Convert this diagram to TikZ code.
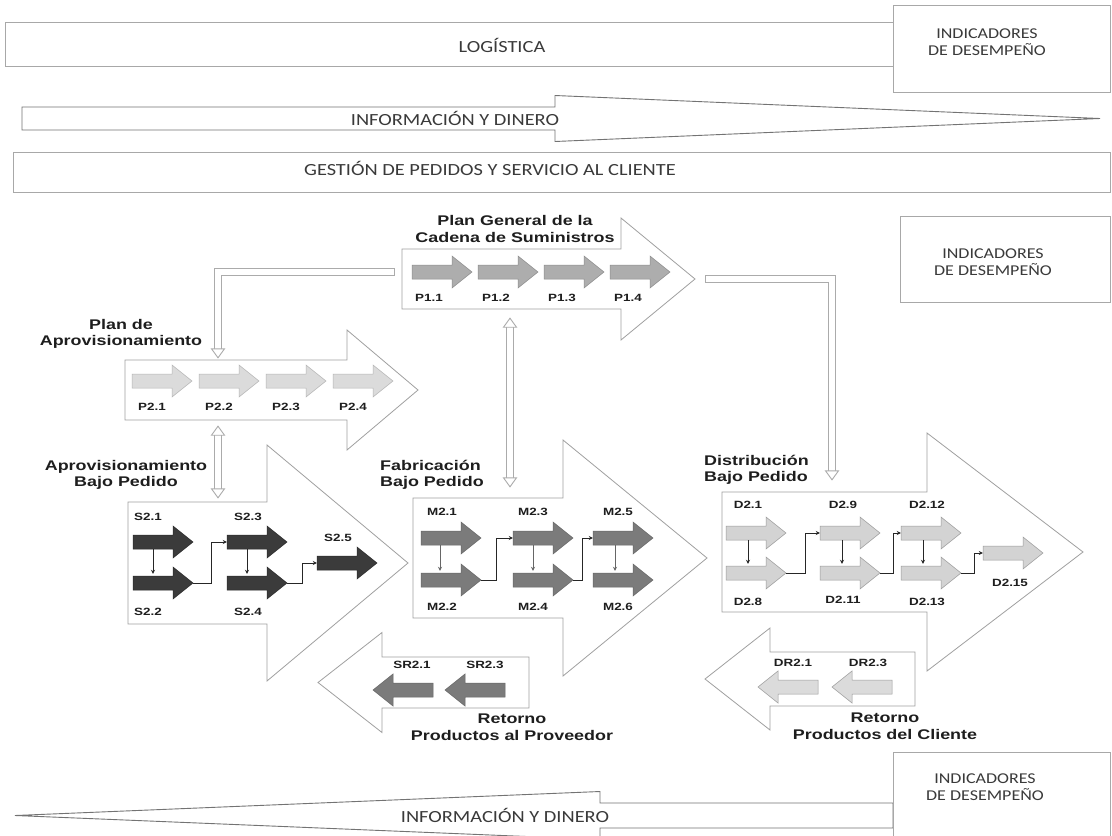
\documentclass[tikz,border=0pt]{standalone}
\usepackage{fontspec}
\usetikzlibrary{arrows.meta,calc}
\newfontfamily\barfont[FakeStretch=1.2]{Carlito}
\newfontfamily\blkfont[FakeStretch=1.28]{Liberation Sans}

\definecolor{boxgray}{HTML}{A8A8A8}
\definecolor{blkgray}{HTML}{A0A0A0}
\definecolor{conngray}{HTML}{ABABAB}
\definecolor{bartxt}{HTML}{3A3A3A}
\definecolor{labeltext}{HTML}{1E1E1E}
\definecolor{pfill}{HTML}{ADADAD}
\definecolor{pdraw}{HTML}{8C8C8C}
\definecolor{qfill}{HTML}{DBDBDB}
\definecolor{qdraw}{HTML}{B4B4B4}
\definecolor{sfill}{HTML}{3B3B3B}
\definecolor{sdraw}{HTML}{2A2A2A}
\definecolor{mfill}{HTML}{7B7B7B}
\definecolor{mdraw}{HTML}{676767}
\definecolor{dfill}{HTML}{D3D3D3}
\definecolor{ddraw}{HTML}{9A9A9A}

% block arrow: style, name, tail x, head base x, tip x, centre y, shaft half, head half
\newcommand\arrowshape[8]{%
  \draw[#1] ({#3},{#6-#7}) -- ({#4},{#6-#7}) -- ({#4},{#6-#8}) -- ({#5},{#6})
    -- ({#4},{#6+#8}) -- ({#4},{#6+#7}) -- ({#3},{#6+#7}) -- cycle;
  \node[inner sep=0, minimum height={2*#7}, minimum width={abs(#5-#3)}]
    (#2) at ({(#3+#5)/2},{#6}) {};%
}
% small process arrow: style, name, tail x, centre y, direction (1 or -1)
\newcommand\smallarrow[5]{\arrowshape{#1}{#2}{#3}{#3+40*(#5)}{#3+60*(#5)}{#4}{7}{16}}
% open head of a tube connector: tip point, direction angle
\newcommand\tubehead[2]{%
  \draw[tubeline, fill=white, line join=miter, shift={(#1)}, rotate=#2]
    (0,0) -- (-9,-6.5) -- (-9,6.5) -- cycle;}

\tikzset{
  boxline/.style={draw=boxgray, line width=0.9pt, fill=white},
  blockout/.style={draw=blkgray, fill=white, line width=0.8pt},
  pstyle/.style={fill=pfill, draw=pdraw, line width=0.5pt},
  qstyle/.style={fill=qfill, draw=qdraw, line width=0.5pt},
  sstyle/.style={fill=sfill, draw=sdraw, line width=0.5pt},
  mstyle/.style={fill=mfill, draw=mdraw, line width=0.5pt},
  dstyle/.style={fill=dfill, draw=ddraw, line width=0.5pt},
  lbl/.style={font=\blkfont\bfseries\fontsize{10.5}{12}\selectfont, text=labeltext, inner sep=0},
  ttl/.style={font=\blkfont\bfseries\fontsize{14}{16.5}\selectfont, text=labeltext, inner sep=0},
  bartext/.style={font=\barfont\fontsize{17}{19}\selectfont, text=bartxt, inner sep=0},
  indtext/.style={font=\barfont\fontsize{15}{17}\selectfont, text=bartxt, align=center, inner sep=0},
  link/.style={draw=black!85, line width=0.7pt, -{Stealth[length=4pt,width=4pt]}},
  tubeline/.style={draw=conngray, line width=0.9pt},
}

\begin{document}
\begin{tikzpicture}[x=1pt, y=-1pt]
\useasboundingbox (0,0) rectangle (1112,836);
\fill[white] (0,0) rectangle (1112,836);

% ---------- upper bands ----------
\node[boxline, minimum width=890, minimum height=44] (logbox) at (450,44) {};
\node[bartext] (logtxt) at (502,45) {LOGÍSTICA};
\node[boxline, minimum width=217, minimum height=87] (ind1) at (1001.5,48.5) {};
\node[indtext] (ind1txt) at (987,42) {INDICADORES\\DE DESEMPEÑO};

\arrowshape{boxline, draw=black!55}{infotop}{22}{555}{1100}{118.5}{11.5}{23}
\node[bartext] (infotoptxt) at (455,118) {INFORMACIÓN Y DINERO};

\node[boxline, minimum width=1097, minimum height=40] (gestion) at (561.5,172) {};
\node[bartext] (gestiontxt) at (490,168) {GESTIÓN DE PEDIDOS Y SERVICIO AL CLIENTE};

\node[boxline, minimum width=210, minimum height=86] (ind2) at (1005,259) {};
\node[indtext] (ind2txt) at (993,262) {INDICADORES\\DE DESEMPEÑO};

% ---------- planning blocks ----------
\arrowshape{blockout}{pgen}{402}{621}{695}{279}{30}{61}
\node[ttl, align=center] (pgenttl) at (515,229) {Plan General de la\\Cadena de Suministros};
\smallarrow{pstyle}{p11}{412}{272}{1}
\smallarrow{pstyle}{p12}{478}{272}{1}
\smallarrow{pstyle}{p13}{544}{272}{1}
\smallarrow{pstyle}{p14}{610}{272}{1}
\node[lbl] at (429,298) {P1.1};
\node[lbl] at (496,298) {P1.2};
\node[lbl] at (562,298) {P1.3};
\node[lbl] at (628,298) {P1.4};

\arrowshape{blockout}{papr}{125}{347}{418}{390}{30}{60}
\node[ttl, align=center] (paprttl) at (121,334) {Plan de\\Aprovisionamiento};
\smallarrow{qstyle}{p21}{132}{381}{1}
\smallarrow{qstyle}{p22}{199}{381}{1}
\smallarrow{qstyle}{p23}{266}{381}{1}
\smallarrow{qstyle}{p24}{333}{381}{1}
\node[lbl] at (152,407) {P2.1};
\node[lbl] at (219,407) {P2.2};
\node[lbl] at (286,407) {P2.3};
\node[lbl] at (353,407) {P2.4};

% ---------- execution blocks ----------
\arrowshape{blockout}{abp}{128}{267}{408}{563}{61}{118}
\node[ttl, align=center] (abpttl) at (126,475) {Aprovisionamiento\\Bajo Pedido};
\smallarrow{sstyle}{s21}{133}{542}{1}
\smallarrow{sstyle}{s22}{133}{583}{1}
\smallarrow{sstyle}{s23}{227}{542}{1}
\smallarrow{sstyle}{s24}{227}{583}{1}
\smallarrow{sstyle}{s25}{317}{563}{1}
\node[lbl] at (148,517) {S2.1};
\node[lbl] at (148,612) {S2.2};
\node[lbl] at (248,517) {S2.3};
\node[lbl] at (248,612) {S2.4};
\node[lbl] at (338,538) {S2.5};
\draw[link] ([xshift=-10pt]s21.south) -- ([xshift=-10pt,yshift=2pt]s22.north);
\draw[link] (s22.east) -- ++(18,0) |- (s23.west);
\draw[link] ([xshift=-10pt]s23.south) -- ([xshift=-10pt,yshift=2pt]s24.north);
\draw[link] (s24.east) -- ++(15,0) |- (s25.west);

\arrowshape{blockout}{fab}{413}{563}{707}{558}{60}{118}
\node[ttl, align=left, anchor=west] (fabttl) at (380,475) {Fabricación\\Bajo Pedido};
\smallarrow{mstyle}{m21}{421}{538}{1}
\smallarrow{mstyle}{m22}{421}{580}{1}
\smallarrow{mstyle}{m23}{513}{538}{1}
\smallarrow{mstyle}{m24}{513}{580}{1}
\smallarrow{mstyle}{m25}{593}{538}{1}
\smallarrow{mstyle}{m26}{593}{580}{1}
\node[lbl] at (442,512) {M2.1};
\node[lbl] at (442,607) {M2.2};
\node[lbl] at (533,512) {M2.3};
\node[lbl] at (533,607) {M2.4};
\node[lbl] at (618,512) {M2.5};
\node[lbl] at (618,607) {M2.6};
\draw[link, draw=black!60] ([xshift=-11pt]m21.south) -- ([xshift=-11pt,yshift=2pt]m22.north);
\draw[link] (m22.east) -- ++(15,0) |- (m23.west);
\draw[link, draw=black!60] ([xshift=-10pt]m23.south) -- ([xshift=-10pt,yshift=2pt]m24.north);
\draw[link] (m24.east) -- ++(9,0) |- (m25.west);
\draw[link, draw=black!60] ([xshift=-8pt]m25.south) -- ([xshift=-8pt,yshift=2pt]m26.north);

\arrowshape{blockout}{dist}{722}{927}{1083}{552}{60}{119}
\node[ttl, align=left, anchor=west] (distttl) at (704,470) {Distribución\\Bajo Pedido};
\smallarrow{dstyle}{d21}{726}{533}{1}
\smallarrow{dstyle}{d28}{726}{573}{1}
\smallarrow{dstyle}{d29}{820}{533}{1}
\smallarrow{dstyle}{d211}{820}{573}{1}
\smallarrow{dstyle}{d212}{901}{533}{1}
\smallarrow{dstyle}{d213}{901}{573}{1}
\smallarrow{dstyle}{d215}{983}{553}{1}
\node[lbl] at (748,505) {D2.1};
\node[lbl] at (748,602) {D2.8};
\node[lbl] at (843,505) {D2.9};
\node[lbl] at (843,600) {D2.11};
\node[lbl] at (927,505) {D2.12};
\node[lbl] at (927,602) {D2.13};
\node[lbl] at (1010,583) {D2.15};
\draw[link] ([xshift=-8pt]d21.south) -- ([xshift=-8pt,yshift=2pt]d28.north);
\draw[link] (d28.east) -- ++(19,0) |- (d29.west);
\draw[link] ([xshift=-8pt]d29.south) -- ([xshift=-8pt,yshift=2pt]d211.north);
\draw[link] (d211.east) -- ++(13,0) |- (d212.west);
\draw[link] ([xshift=-8pt]d212.south) -- ([xshift=-8pt,yshift=2pt]d213.north);
\draw[link] (d213.east) -- ++(13,0) |- (d215.west);

% ---------- return blocks ----------
\arrowshape{blockout}{rprov}{529}{382}{318}{682.5}{25.5}{50}
\smallarrow{mstyle}{sr21}{433}{690}{-1}
\smallarrow{mstyle}{sr23}{505}{690}{-1}
\node[lbl] at (412,665) {SR2.1};
\node[lbl] at (485,665) {SR2.3};
\node[ttl, align=center] (rprovttl) at (512,727) {Retorno\\Productos al Proveedor};

\arrowshape{blockout}{rcli}{915}{770}{705}{679}{27}{51}
\smallarrow{qstyle, draw=ddraw}{dr21}{818}{687}{-1}
\smallarrow{qstyle, draw=ddraw}{dr23}{892}{687}{-1}
\node[lbl] at (793,663) {DR2.1};
\node[lbl] at (868,663) {DR2.3};
\node[ttl, align=center] (rclittl) at (885,726) {Retorno\\Productos del Cliente};

% ---------- tube links between blocks (hollow, two parallel rails) ----------
% general plan -> supply plan
\coordinate (s1) at ([xshift=-7pt,yshift=7pt]pgen.west);
\coordinate (t1) at ([xshift=-53.5pt,yshift=2pt]papr.north);
\draw[tubeline] ([yshift=3.5pt]s1) -| ([xshift=-3.5pt,yshift=8pt]t1);
\draw[tubeline] ([yshift=-3.5pt]s1) -| ([xshift=3.5pt,yshift=8pt]t1);
\draw[tubeline] ([yshift=3.5pt]s1) -- ([yshift=-3.5pt]s1);
\tubehead{t1}{-90}

% supply plan <-> sourcing
\coordinate (a2) at ([xshift=-53.5pt,yshift=-6pt]papr.south);
\coordinate (b2) at ([xshift=-50pt,yshift=4pt]abp.north);
\draw[tubeline] ([xshift=-3.5pt,yshift=-8pt]a2) -- ([xshift=-3.5pt,yshift=8pt]b2);
\draw[tubeline] ([xshift=3.5pt,yshift=-8pt]a2) -- ([xshift=3.5pt,yshift=8pt]b2);
\tubehead{a2}{90}
\tubehead{b2}{-90}

% general plan <-> make
\coordinate (a3) at ([xshift=-38.5pt,yshift=-9pt]pgen.south);
\coordinate (b3) at ([xshift=-50pt,yshift=11pt]fab.north);
\draw[tubeline] ([xshift=-3.5pt,yshift=-8pt]a3) -- ([xshift=-3.5pt,yshift=8pt]b3);
\draw[tubeline] ([xshift=3.5pt,yshift=-8pt]a3) -- ([xshift=3.5pt,yshift=8pt]b3);
\tubehead{a3}{90}
\tubehead{b3}{-90}

% general plan -> deliver
\coordinate (s4) at ([xshift=10pt]pgen.east);
\coordinate (t4) at ([xshift=-70.5pt,yshift=12pt]dist.north);
\draw[tubeline] ([yshift=3.5pt]s4) -| ([xshift=3.5pt,yshift=8pt]t4);
\draw[tubeline] ([yshift=-3.5pt]s4) -| ([xshift=-3.5pt,yshift=8pt]t4);
\draw[tubeline] ([yshift=3.5pt]s4) -- ([yshift=-3.5pt]s4);
\tubehead{t4}{-90}

% ---------- lower band ----------
\arrowshape{boxline, draw=black!55}{infobot}{893}{600}{15}{815.5}{12.5}{24}
\node[bartext] (infobottxt) at (505,815) {INFORMACIÓN Y DINERO};
\node[boxline, minimum width=217, minimum height=88] (ind3) at (1001.5,796) {};
\node[indtext] (ind3txt) at (985,787) {INDICADORES\\DE DESEMPEÑO};
\end{tikzpicture}
\end{document}
